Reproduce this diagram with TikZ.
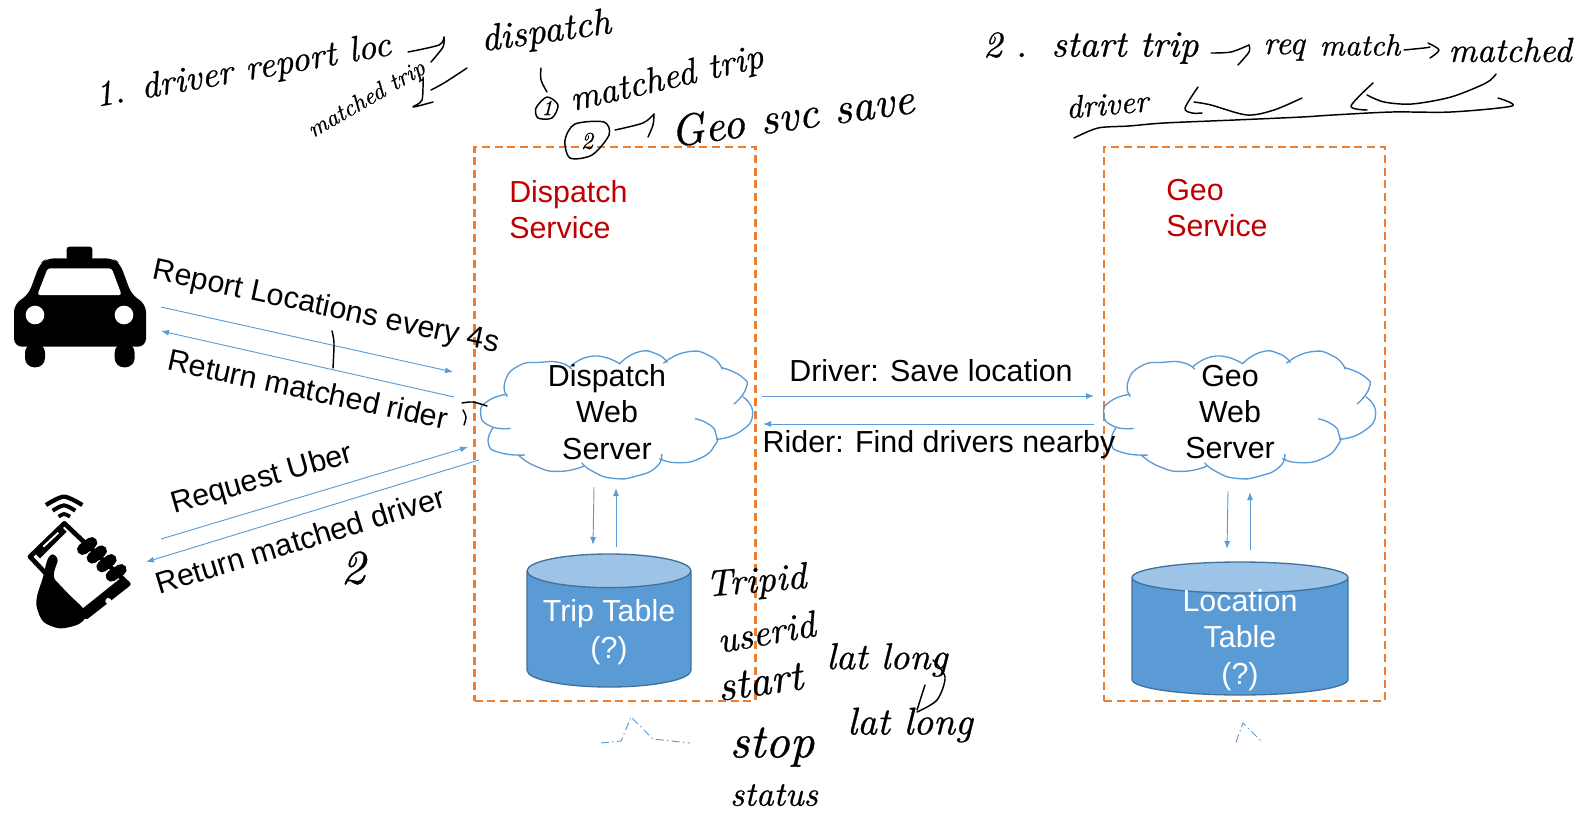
\documentclass[tikz,border=0pt]{standalone}
\usepackage{fontspec}
\newfontfamily\labelfont{Liberation Sans}
\newfontface\handface{lmroman10-italic.otf}[FakeBold=0.7]
\usetikzlibrary{arrows.meta,shapes.geometric}

\definecolor{wireblue}{HTML}{5B9BD5}
\definecolor{boxorange}{HTML}{ED7D31}
\definecolor{svcred}{HTML}{C00000}
\definecolor{cyltop}{HTML}{9DC3E6}
\definecolor{cyledge}{HTML}{41719C}

\begin{document}
\begin{tikzpicture}[x=.75pt,y=-.75pt]
	\tikzset{svcbox/.style = {draw=boxorange,line width=1.6pt,dash pattern=on 6pt off 3.6pt,inner sep=0pt,outer sep=0pt,minimum width=210.75pt,minimum height=415.5pt}}
	\tikzset{conn/.style = {draw=wireblue,line width=.7pt,-{Latex[length=6pt,width=4.5pt]}}}
	\tikzset{lbl/.style = {font=\labelfont\fontsize{22.8}{27.2}\selectfont,align=center,inner sep=0pt}}
	\tikzset{svctitle/.style = {lbl,text=svcred,align=left,anchor=west}}
	\tikzset{dbcyl/.style = {cylinder,shape border rotate=90,draw=cyledge,line width=1pt,cylinder uses custom fill,cylinder body fill=wireblue,cylinder end fill=cyltop,lbl,text=white,inner sep=0pt,outer sep=0pt,anchor=shape center}}
	\tikzset{dbtext/.style = {lbl,text=white}}
	\tikzset{hand/.style = {font=\fontsize{#1}{#1}\selectfont\handface,inner sep=0pt}}
	\tikzset{ink/.style = {black,line width=1.1pt,line cap=round,line join=round}}
	\tikzset{sketch/.style = {wireblue,line width=.7pt,dash pattern=on 6pt off 2.5pt on 1pt off 2.5pt}}
	\tikzset{webcloud/.pic = {
		\begin{scope}[x=.25pt,y=-.25pt,wireblue,line width=1pt]
		\draw plot[smooth,tension=1] coordinates {(142,200) (135,155) (175,108) (240,97) (300,98) (335,118)};
		\draw plot[smooth,tension=1] coordinates {(328,112) (400,78) (480,102)};
		\draw plot[smooth,tension=1] coordinates {(480,100) (535,66) (590,72) (622,98)};
		\draw plot[smooth,tension=1] coordinates {(610,100) (680,66) (750,78) (787,118)};
		\draw plot[smooth,tension=1] coordinates {(785,113) (845,140) (858,175) (822,222)};
		\draw plot[smooth,tension=1] coordinates {(848,200) (878,250) (840,305) (768,328)};
		\draw plot[smooth,tension=1] coordinates {(705,266) (750,285) (768,315) (765,345) (720,385) (650,398) (598,385)};
		\draw plot[smooth,tension=1] coordinates {(605,372) (590,410) (530,438) (460,445) (400,425) (365,398)};
		\draw plot[smooth,tension=1] coordinates {(372,408) (300,424) (230,410) (175,375)};
		\draw plot[smooth,tension=1] coordinates {(195,375) (120,368) (85,340) (100,292)};
		\draw plot[smooth,tension=1] coordinates {(152,295) (90,288) (62,250) (85,212) (142,193)};
		\end{scope}
	}}
	\useasboundingbox (0,0) rectangle (1576,814);

	% service boxes
	\node[svcbox] (dispatchsvc) at (615,424) {};
	\node[svcbox] (geosvc) at (1244.5,424) {};
	\node[svctitle] (dispatchtitle) at (509,209.5) {Dispatch\\Service};
	\node[svctitle] (geotitle) at (1166,208) {Geo\\Service};

	% clouds
	\pic at (460,330) {webcloud};
	\pic at (1083,330) {webcloud};
	\node[lbl] (dispatchweb) at (607,412) {Dispatch\\Web\\Server};
	\node[lbl] (geoweb) at (1230,412) {Geo\\Web\\Server};

	% tables
	\node[dbcyl,aspect=.254,minimum width=123pt,minimum height=99.75pt] (triptable) at (609,620.5) {\phantom{Trip Table}};
	\node[dbcyl,aspect=.27,minimum width=162pt,minimum height=99.75pt] (locationtable) at (1240,628.5) {\phantom{Location}};
	\node[dbtext] (triptext) at (609,632) {Trip Table\\(?)};
	\node[dbtext] (locationtext) at (1240,640) {Location\\Table\\(?)};

	% taxi
	\begin{scope}[shift={(0,230)},x=.25pt,y=-.25pt]
		\fill[rounded corners=6pt] (42,350) -- (42,222) -- (85,195) -- (120,100) -- (140,85) -- (340,85) -- (360,100) -- (395,195) -- (438,222) -- (438,350) -- cycle;
		\fill[rounded corners=2pt] (200,90) rectangle (277,50);
		\fill[rounded corners=7pt] (75,340) rectangle (135,412);
		\fill[rounded corners=7pt] (344,340) rectangle (404,412);
		\fill[white,rounded corners=2pt] (112,195) -- (143,115) -- (335,115) -- (365,195) -- cycle;
		\fill[white] (105,255) circle[radius=28];
		\fill[white] (372,255) circle[radius=28];
	\end{scope}

	% phone
	\begin{scope}[shift={(20,490)},x=.25pt,y=-.25pt]
		\draw[line width=3.2pt] plot[smooth] coordinates {(78,45) (132,20) (187,45)};
		\draw[line width=3pt] plot[smooth] coordinates {(98,62) (132,46) (166,62)};
		\draw[line width=2.8pt] plot[smooth] coordinates {(116,80) (132,72) (150,80)};
		\draw[fill=white,line width=3.5pt,line join=round] (133,100) -- (30,200) -- (200,380) -- (325,282) -- cycle;
		\draw[line width=7pt] (50,195) -- (130,115);
		\draw[white,line width=1.4pt] (70,170) -- (115,128);
		\fill (200,385) -- (325,290) -- (305,262) -- (180,362) -- cycle;
		\fill[white] (265,333) circle[radius=9];
		\draw[line width=8.5pt,line cap=round] (188,178) -- (215,158);
		\draw[line width=8.5pt,line cap=round] (217,204) -- (244,183);
		\draw[line width=8.5pt,line cap=round] (246,230) -- (273,209);
		\draw[line width=8.5pt,line cap=round] (274,258) -- (303,239);
		\fill plot[smooth cycle] coordinates {(97,193) (113,210) (105,270) (195,362) (180,400) (120,415) (70,395) (50,350) (52,315) (68,265) (82,210)};
	\end{scope}

	% connector ends
	\coordinate (reportfrom) at (161,307);
	\coordinate (reportto) at (453,372);
	\coordinate (riderfrom) at (454,397);
	\coordinate (riderto) at (161,331);
	\coordinate (requestfrom) at (161,539);
	\coordinate (requestto) at (468,447);
	\coordinate (driverfrom) at (479,460);
	\coordinate (driverto) at (146,562);
	\coordinate (savefrom) at (762,396);
	\coordinate (saveto) at (1094,396);
	\coordinate (findfrom) at (1094,424);
	\coordinate (findto) at (763,424);
	\coordinate (tripdownfrom) at (594,487);
	\coordinate (tripdownto) at (593,545);
	\coordinate (tripupfrom) at (616,547);
	\coordinate (tripupto) at (616,488);
	\coordinate (locdownfrom) at (1228,491);
	\coordinate (locdownto) at (1227,549);
	\coordinate (locupfrom) at (1250,550);
	\coordinate (locupto) at (1250,492);

	% edges
	\draw[conn] (reportfrom) to (reportto);
	\draw[conn] (riderfrom) to (riderto);
	\draw[conn] (requestfrom) to (requestto);
	\draw[conn] (driverfrom) to (driverto);
	\draw[conn] (savefrom) to (saveto);
	\draw[conn] (findfrom) to (findto);
	\draw[conn] (tripdownfrom) to (tripdownto);
	\draw[conn] (tripupfrom) to (tripupto);
	\draw[conn] (locdownfrom) to (locdownto);
	\draw[conn] (locupfrom) to (locupto);

	% edge labels
	\node[lbl,rotate=-12] (reportlbl) at (326,308) {Report Locations every 4s};
	\node[lbl,rotate=-12] (riderlbl) at (308,389) {Return matched rider};
	\node[lbl,rotate=16] (requestlbl) at (262,480) {Request Uber};
	\node[lbl,rotate=17] (driverlbl) at (300,540) {Return matched driver};
	\node[lbl] (savelbl) at (931,371) {Driver: Save location};
	\node[lbl] (findlbl) at (939,445) {Rider: Find drivers nearby};

	% sketches under the boxes
	\draw[sketch] plot coordinates {(601,743) (621,741) (631,717) (653,739) (690,743)};
	\draw[sketch] plot coordinates {(1236,742) (1243,723) (1262,742)};

	% notes, top left
	\node[hand=27,rotate=10] (notereport) at (243,72) {1. driver report loc};
	\node[hand=28,rotate=8] (notedispatch) at (546,33) {dispatch};
	\node[hand=18,rotate=30] (notematchedl) at (367,100) {matched trip};
	\node[hand=27,rotate=13] (notematchedr) at (667,80) {matched trip};
	\node[hand=16] (noteone) at (547,108) {1};
	\node[hand=18] (notetwo) at (587,141) {2};
	\node[hand=33,rotate=8] (notegeo) at (792,115) {Geo svc save};
	\draw[ink] plot[smooth] coordinates {(408,52) (439,45) (444,37)};
	\draw[ink] plot[smooth] coordinates {(444,37) (443,47) (431,62)};
	\draw[ink] plot[smooth] coordinates {(467,68) (444,83) (431,90)};
	\draw[ink] plot[smooth] coordinates {(423,77) (422,100) (413,107) (433,102)};
	\draw[ink] plot[smooth] coordinates {(541,68) (541,80) (547,92)};
	\draw[ink] plot[smooth cycle] coordinates {(547,97) (558,105) (552,118) (538,118) (536,108)};
	\draw[ink] plot[smooth cycle] coordinates {(575,124) (604,122) (609,135) (592,155) (570,158) (565,140)};
	\draw[ink] plot[smooth] coordinates {(615,130) (643,123) (654,114)};
	\draw[ink] plot[smooth] coordinates {(654,114) (653,125) (648,137)};

	% notes, top right
	\node[hand=28] (notetwodot) at (1005,45) {2 .};
	\node[hand=28] (notestart) at (1125,48) {start trip};
	\node[hand=25] (notereq) at (1284,50) {req};
	\node[hand=23] (notematch) at (1360,45) {match};
	\node[hand=26] (notematched) at (1510,50) {matched};
	\node[hand=24,rotate=5] (notedriver) at (1107,104) {driver};
	\draw[ink] plot[smooth] coordinates {(1211,53) (1231,52) (1249,45)};
	\draw[ink] plot[smooth] coordinates {(1249,45) (1249,52) (1238,65)};
	\draw[ink] plot[smooth] coordinates {(1404,50) (1424,48) (1430,47)};
	\draw[ink] plot[smooth] coordinates {(1428,43) (1439,50) (1430,58)};
	\draw[ink] plot[smooth] coordinates {(1198,87) (1185,108) (1192,113) (1202,113)};
	\draw[ink] plot[smooth] coordinates {(1194,102) (1211,105) (1247,115) (1274,110) (1302,98)};
	\draw[ink] plot[smooth] coordinates {(1373,83) (1351,106) (1367,110)};
	\draw[ink] plot[smooth] coordinates {(1367,95) (1384,102) (1412,104) (1451,97) (1486,83) (1496,74)};
	\draw[ink] plot[smooth] coordinates {(1074,138) (1098,128) (1129,126) (1164,123) (1235,120) (1302,117) (1333,115) (1392,112) (1451,112) (1512,106) (1498,98)};

	% notes at the arrows
	\draw[ink] plot[smooth] coordinates {(332,331) (334,343) (333,368)};
	\node[hand=36] (notetwomark) at (353,568) {2};
	\draw[ink] plot[smooth] coordinates {(462,403) (473,402) (487,406)};
	\draw[ink] plot[smooth] coordinates {(463,410) (466,417) (464,425)};

	% notes, fields
	\node[hand=28,rotate=5] (notetripid) at (756,583) {Tripid};
	\node[hand=28,rotate=10] (noteuserid) at (766,632) {userid};
	\node[hand=32,rotate=8] (notestartf) at (760,682) {start};
	\node[hand=28] (notelatone) at (887,660) {lat long};
	\node[hand=29] (notelattwo) at (910,725) {lat long};
	\node[hand=36] (notestop) at (772,747) {stop};
	\node[hand=26] (notestatus) at (774,795) {status};
	\draw[ink] plot[smooth] coordinates {(933,660) (945,677) (937,700) (917,712)};
	\draw[ink] plot[smooth] coordinates {(925,685) (917,710)};
\end{tikzpicture}
\end{document}
